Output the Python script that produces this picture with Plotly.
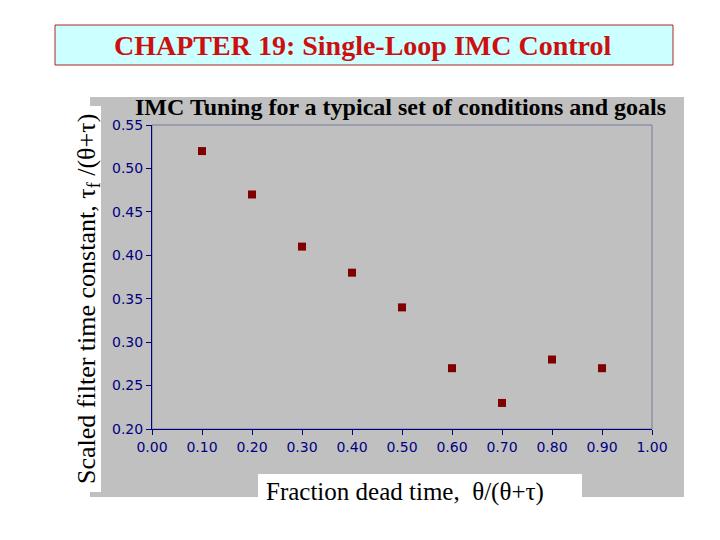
import plotly.graph_objects as go

x_vals = [0.1, 0.2, 0.3, 0.4, 0.5, 0.6, 0.7, 0.8, 0.9]
y_vals = [0.52, 0.47, 0.41, 0.38, 0.34, 0.27, 0.23, 0.28, 0.27]
x_ticks = [0.0, 0.1, 0.2, 0.3, 0.4, 0.5, 0.6, 0.7, 0.8, 0.9, 1.0]
y_ticks = [0.20, 0.25, 0.30, 0.35, 0.40, 0.45, 0.50, 0.55]

W, H = 720, 540
L, R, T, B = 152, 652, 125, 429

def px(x):
    return (x - L) / (R - L)

def py(y):
    return (B - y) / (B - T)

fig = go.Figure()
fig.add_trace(go.Scatter(
    x=x_vals, y=y_vals, mode="markers",
    marker=dict(symbol="square", size=8, color="#800000", line=dict(width=0)),
    showlegend=False,
))

shapes = [
    # gray panel
    dict(type="rect", xref="paper", yref="paper", x0=px(90), x1=px(684), y0=py(497), y1=py(97),
         fillcolor="#c0c0c0", line=dict(width=0), layer="below"),
    # plot area border
    dict(type="rect", xref="paper", yref="paper", x0=0, x1=1, y0=0, y1=1,
         fillcolor="rgba(0,0,0,0)", line=dict(width=1, color="#7a7aa0"), layer="below"),
    # header box
    dict(type="rect", xref="paper", yref="paper", x0=px(55), x1=px(673), y0=py(65), y1=py(25),
         fillcolor="#ccffff", line=dict(width=1, color="#b22222")),
    # y title box
    dict(type="rect", xref="paper", yref="paper", x0=px(76), x1=px(101), y0=py(492), y1=py(106),
         fillcolor="white", line=dict(width=0)),
    # x title box
    dict(type="rect", xref="paper", yref="paper", x0=px(258), x1=px(582), y0=py(505), y1=py(474),
         fillcolor="white", line=dict(width=0)),
]

serif = "Liberation Serif, Times New Roman, serif"
annotations = [
    dict(text="<b>CHAPTER 19: Single-Loop IMC Control</b>", xref="paper", yref="paper",
         x=px(363), y=py(46), showarrow=False, xanchor="center", yanchor="middle",
         font=dict(family=serif, size=28, color="#cc1010")),
    dict(text="<b>IMC Tuning for a typical set of conditions and goals</b>", xref="paper", yref="paper",
         x=px(400), y=py(107), showarrow=False, xanchor="center", yanchor="middle",
         font=dict(family=serif, size=24, color="black")),
    dict(text="Scaled filter time constant, τ<sub>f</sub> /(θ+τ)", xref="paper", yref="paper",
         x=px(88), y=py(299), showarrow=False, textangle=-90, xanchor="center", yanchor="middle",
         font=dict(family=serif, size=26, color="black")),
    dict(text="Fraction dead time,  θ/(θ+τ)", xref="paper", yref="paper",
         x=px(264), y=py(492), showarrow=False, xanchor="left", yanchor="middle",
         font=dict(family=serif, size=25, color="black")),
]

tickfont = dict(family="DejaVu Sans, Verdana, sans-serif", size=14, color="#000080")
fig.update_layout(
    width=W, height=H,
    margin=dict(l=L, r=W - R, t=T, b=H - B, pad=0),
    paper_bgcolor="white",
    plot_bgcolor="rgba(0,0,0,0)",
    shapes=shapes,
    annotations=annotations,
    xaxis=dict(range=[0, 1], tickvals=x_ticks, ticktext=[f"{v:.2f}" for v in x_ticks],
               showgrid=False, zeroline=False, showline=True, linecolor="#000080", linewidth=1,
               ticks="outside", ticklen=5, tickcolor="#000080", tickfont=tickfont),
    yaxis=dict(range=[0.2, 0.55], tickvals=y_ticks, ticktext=[f"{v:.2f}" for v in y_ticks],
               showgrid=False, zeroline=False, showline=True, linecolor="#000080", linewidth=1,
               ticks="outside", ticklen=5, tickcolor="#000080", tickfont=tickfont),
)

fig.write_html("out.html")
